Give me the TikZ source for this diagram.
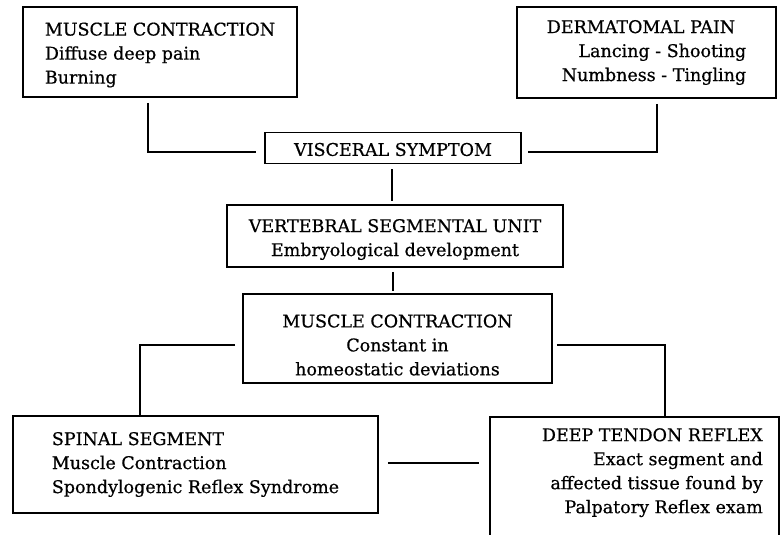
\documentclass[tikz,border=0pt]{standalone}
\usepackage{fontspec}
\setmainfont{DejaVu Serif}[FakeBold=0.6]
\begin{document}
\begin{tikzpicture}[x=1pt,y=-1pt,
  box/.style={draw, line width=1.6pt, inner sep=0pt, font=\fontsize{17.5}{24}\selectfont},
  txt/.style={inner sep=0pt, font=\fontsize{17.5}{24}\selectfont},
  conn/.style={line width=1.5pt}]
\useasboundingbox (0,0) rectangle (782,535);
% boxes
\node[box, minimum width=274pt, minimum height=90pt, align=left] (mc1) at (160,52)
  {\rule{0pt}{19pt}MUSCLE CONTRACTION\\Diffuse deep pain\\Burning};
\node[box, minimum width=259pt, minimum height=91pt, align=right] (derm) at (646.5,52.5)
  {DERMATOMAL PAIN\hspace*{11pt}\\Lancing - Shooting\\Numbness - Tingling};
\node[box, minimum width=256pt, minimum height=31pt] (visc) at (393,148)
  {\rule{0pt}{16pt}VISCERAL SYMPTOM};
\node[box, minimum width=336pt, minimum height=62pt, align=center] (vert) at (395,236)
  {\rule{0pt}{20pt}VERTEBRAL SEGMENTAL UNIT\\Embryological development};
\node[box, minimum width=309pt, minimum height=89pt, align=center] (mc2) at (397.5,338.5)
  {\rule{0pt}{26pt}MUSCLE CONTRACTION\\Constant in\\homeostatic deviations};
\node[box, minimum width=365pt, minimum height=97pt, align=left] (spinal) at (195.5,464.5)
  {SPINAL SEGMENT\\Muscle Contraction\\Spondylogenic Reflex Syndrome};
\node[box, minimum width=289pt, minimum height=143pt] (deep) at (634.5,488.5) {};
\node[txt, align=right, anchor=north east] (deeptext) at (763,428)
  {DEEP TENDON REFLEX\\Exact segment and\\affected tissue found by\\Palpatory Reflex exam};
% connectors
\draw[conn] ([xshift=-12pt,yshift=-5pt]mc1.south) |- ([xshift=-8pt,yshift=-4pt]visc.west);
\draw[conn] ([xshift=10.5pt,yshift=-5pt]derm.south) |- ([xshift=6pt,yshift=-4pt]visc.east);
\draw[conn] ([xshift=-1pt,yshift=-5pt]visc.south) -- ([xshift=-1pt,yshift=3pt]visc.south |- vert.north);
\draw[conn] ([xshift=-2pt,yshift=-4pt]vert.south) -- ([xshift=-2pt,yshift=2pt]vert.south |- mc2.north);
\draw[conn] ([xshift=-7pt,yshift=-6.5pt]mc2.west) -| ([xshift=-55.5pt]spinal.north);
\draw[conn] ([xshift=4pt,yshift=-6.5pt]mc2.east) -| ([xshift=30.5pt]deep.north);
\draw[conn] ([xshift=9pt,yshift=1.5pt]spinal.east) -- ([xshift=-10pt,yshift=1.5pt]spinal.east -| deep.west);
\end{tikzpicture}
\end{document}
